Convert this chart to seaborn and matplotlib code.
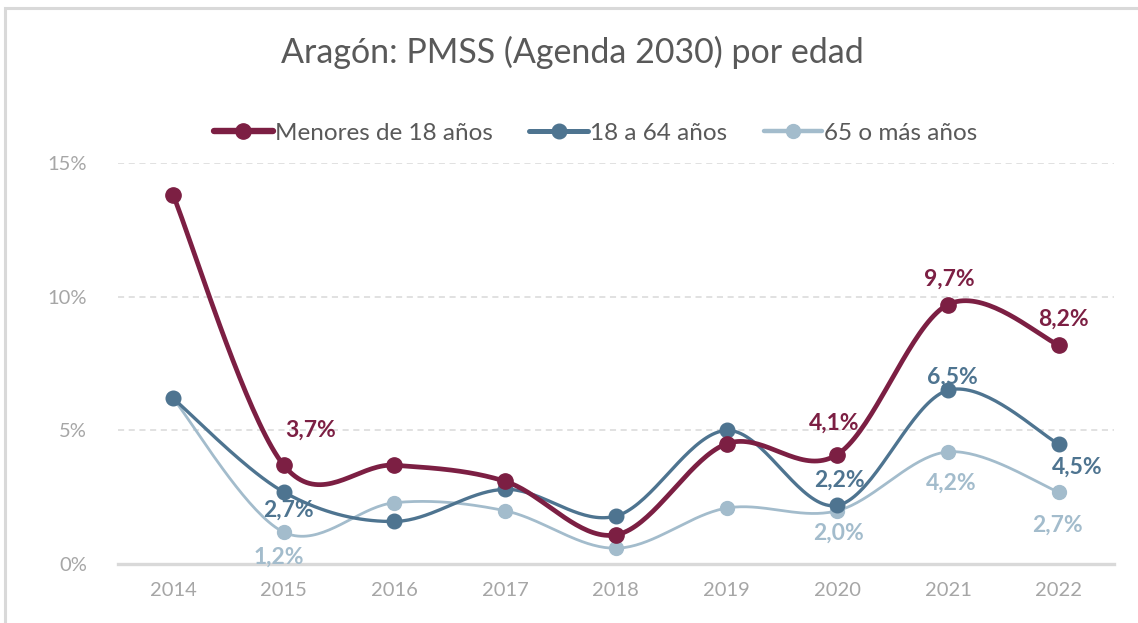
import numpy as np
import pandas as pd
import matplotlib
matplotlib.use("Agg")
import matplotlib.pyplot as plt
from matplotlib.patches import Rectangle
from matplotlib.lines import Line2D
from matplotlib.ticker import FuncFormatter
import seaborn as sns

# Data (percent)
years = ['2014', '2015', '2016', '2017', '2018', '2019', '2020', '2021', '2022']
menores = [13.8, 3.7, 3.7, 3.1, 1.1, 4.5, 4.1, 9.7, 8.2]
adultos = [6.2, 2.7, 1.6, 2.8, 1.8, 5.0, 2.2, 6.5, 4.5]
mayores = [6.2, 1.2, 2.3, 2.0, 0.6, 2.1, 2.0, 4.2, 2.7]

names = ['Menores de 18 años', '18 a 64 años', '65 o más años']
colors = ['#7c1f43', '#4e7490', '#a3bccc']

sns.set_theme(style='white')
plt.rcParams['font.family'] = ['Lato', 'DejaVu Sans']


# Excel-style smoothed line (bezier through the points)
def smooth(y, n=40):
    x = np.arange(len(y), dtype=float)
    y = np.asarray(y, dtype=float)
    px = np.concatenate([[x[0]], x, [x[-1]]])
    py = np.concatenate([[y[0]], y, [y[-1]]])
    xs, ys = [], []
    t = np.linspace(0, 1, n)
    for i in range(len(y) - 1):
        p0 = np.array([px[i + 1], py[i + 1]])
        p3 = np.array([px[i + 2], py[i + 2]])
        c1 = p0 + (np.array([px[i + 2], py[i + 2]]) - np.array([px[i], py[i]])) / 6
        c2 = p3 - (np.array([px[i + 3], py[i + 3]]) - np.array([px[i + 1], py[i + 1]])) / 6
        b = ((1 - t) ** 3)[:, None] * p0 + (3 * (1 - t) ** 2 * t)[:, None] * c1 \
            + (3 * (1 - t) * t ** 2)[:, None] * c2 + (t ** 3)[:, None] * p3
        xs.extend(b[:, 0])
        ys.extend(b[:, 1])
    return np.array(xs), np.array(ys)


fig = plt.figure(figsize=(11.38, 6.23), dpi=100)
ax = fig.add_axes([117.7 / 1138, 1 - 564.3 / 623, (1114 - 117.7) / 1138, (564.3 - 162.7) / 623])

# chart border
fig.patches.append(Rectangle((5 / 1138, -0.1), 1.2, 1 - 8.5 / 623 + 0.1, transform=fig.transFigure,
                             fill=False, edgecolor='#d9d9d9', lw=2.2))

ax.set_ylim(0, 15)
ax.set_xlim(-0.5, 8.5)
ax.set_yticks([0, 5, 10, 15])
ax.yaxis.grid(True, color='#d9d9d9', linestyle=(0, (4, 3)), lw=1.1)
ax.set_axisbelow(True)
for s in ['top', 'right', 'left']:
    ax.spines[s].set_visible(False)
ax.spines['bottom'].set_color('#d9d9d9')
ax.spines['bottom'].set_linewidth(2.4)

series = [menores, adultos, mayores]
widths = [3.4, 2.4, 2.0]
msizes = [11, 10.5, 10]
z = [5, 4, 3]
for vals, c, lw, ms, zz in zip(series, colors, widths, msizes, z):
    xs, ys = smooth(vals)
    sns.lineplot(x=xs, y=ys, sort=False, estimator=None, color=c, lw=lw, ax=ax, zorder=zz)
    ax.plot(range(len(vals)), vals, 'o', color=c, ms=ms, zorder=zz)

ax.set_xticks(range(len(years)))
ax.set_xticklabels(years)
ax.yaxis.set_major_formatter(FuncFormatter(lambda v, p: f'{v:.0f}%'))
ax.tick_params(axis='both', colors='#a6a6a6', labelsize=14.5, length=0)
ax.tick_params(axis='x', pad=13)
ax.tick_params(axis='y', pad=22)
ax.set_xlabel('')
ax.set_ylabel('')


def fmt(v):
    return f'{v:.1f}'.replace('.', ',') + '%'


# data labels: (series index, year index, dx px, dy px)
labels = [
    (0, 1, 27, 35), (0, 6, -3, 31), (0, 7, 1, 25), (0, 8, 5, 26),
    (1, 1, 5, -18), (1, 6, 2, 25), (1, 7, 4, 13), (1, 8, 19, -23),
    (2, 1, -5, -25), (2, 6, 1, -22), (2, 7, 3, -31), (2, 8, -1, -33),
]
for si, yi, dx, dy in labels:
    v = series[si][yi]
    ax.annotate(fmt(v), (yi, v), xytext=(dx, dy), textcoords='offset pixels',
                ha='center', va='center', color=colors[si], fontsize=16.5, fontweight='bold', zorder=6)

fig.text(572 / 1138, 1 - 52 / 623, 'Aragón: PMSS (Agenda 2030) por edad', ha='center', va='center',
         fontsize=24.5, color='#595959')

handles = [Line2D([0], [0], color=c, lw=lw + 1.2, marker='o', ms=ms) for c, lw, ms in zip(colors, widths, msizes)]
fig.legend(handles, names, loc='center', bbox_to_anchor=(596 / 1138, 1 - 133 / 623), ncol=3, frameon=False,
           fontsize=17.5, labelcolor='#595959', handlelength=2.4, handletextpad=0.1, columnspacing=1.5)

fig.savefig('out.png', dpi=100)
